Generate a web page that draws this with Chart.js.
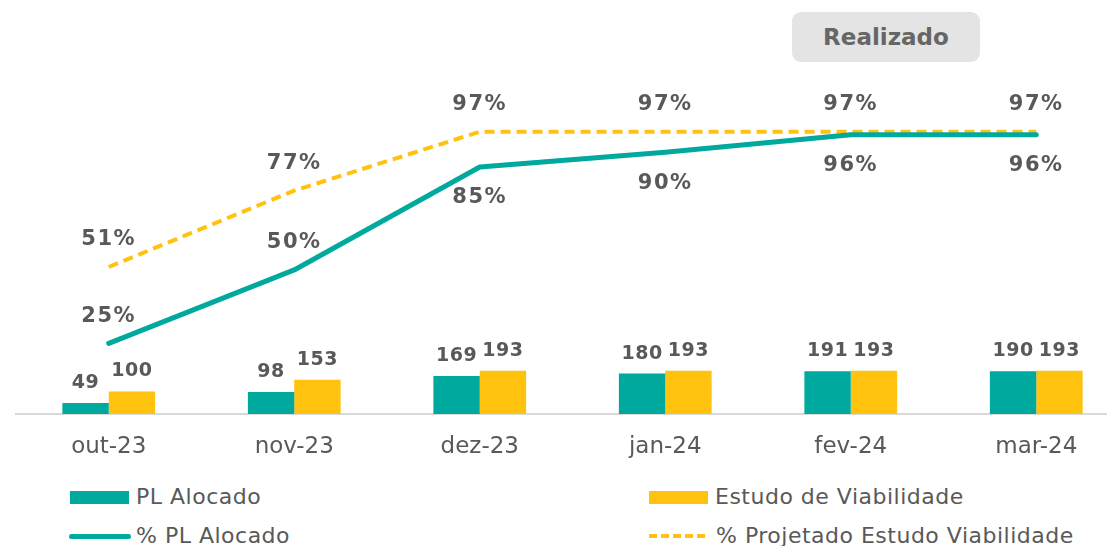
<!DOCTYPE html>
<html>
<head>
<meta charset="utf-8">
<script src="https://cdn.jsdelivr.net/npm/chart.js@4.4.0/dist/chart.umd.min.js"></script>
<style>
  html, body { margin: 0; padding: 0; background: #fff; overflow: hidden; }
  #wrap { position: relative; width: 1107px; height: 546px; overflow: hidden;
          font-family: 'DejaVu Sans', Verdana, sans-serif; color: #595959; }
  #myChart { position: absolute; left: 0; top: 0; }
  .badge { position: absolute; left: 792px; top: 12px; width: 188px; height: 50px;
           background: #e4e4e4; border-radius: 9px; font-weight: bold; font-size: 23px;
           line-height: 50px; text-align: center; color: #666; }
  .leg { position: absolute; font-size: 22px; line-height: 26px; height: 26px; letter-spacing: 0.5px;
         display: flex; align-items: center; white-space: nowrap; }
  .box { width: 59px; height: 13px; margin-right: 7px; }
  .solid { width: 62px; height: 5px; border-radius: 3px; margin-right: 5px; }
  .dash { width: 59px; height: 4px; margin-right: 8px;
          background: repeating-linear-gradient(to right, #FFC20E 0 8px, transparent 8px 12px); }
</style>
</head>
<body>
<div id="wrap">
  <canvas id="myChart" width="1130" height="470"></canvas>
  <div class="badge">Realizado</div>
  <div class="leg" style="left:70px; top:484px;"><span class="box" style="background:#00A99D"></span>PL Alocado</div>
  <div class="leg" style="left:649px; top:484px;"><span class="box" style="background:#FFC20E"></span>Estudo de Viabilidade</div>
  <div class="leg" style="left:69px; top:523px;"><span class="solid" style="background:#00A99D"></span>% PL Alocado</div>
  <div class="leg" style="left:649px; top:523px;"><span class="dash"></span>% Projetado Estudo Viabilidade</div>
</div>
<script>
// chart data
const months = ['out-23', 'nov-23', 'dez-23', 'jan-24', 'fev-24', 'mar-24'];
const plAlocado = [49, 98, 169, 180, 191, 190];
const estudoViabilidade = [100, 153, 193, 193, 193, 193];
const pctPlAlocado = [25, 50, 85, 90, 96, 96];
const pctProjetado = [51, 77, 97, 97, 97, 97];

const TEAL = '#00A99D';
const YELLOW = '#FFC20E';
const LABEL = '#595959';

Chart.defaults.font.family = "'DejaVu Sans', Verdana, sans-serif";

// draws the value labels above/below each mark
const valueLabels = {
    id: 'valueLabels',
    afterDatasetsDraw(chart) {
        const ctx = chart.ctx;
        ctx.save();
        ctx.fillStyle = LABEL;
        ctx.textAlign = 'center';
        ctx.textBaseline = 'middle';
        chart.data.datasets.forEach((ds, di) => {
            const meta = chart.getDatasetMeta(di);
            meta.data.forEach((el, i) => {
                const v = ds.data[i];
                let text, dy;
                if (ds.type === 'bar') {
                    ctx.font = 'bold 19px "DejaVu Sans", Verdana, sans-serif';
                    ctx.letterSpacing = '0.5px';
                    text = String(v);
                    dy = -20;
                } else {
                    ctx.font = 'bold 21px "DejaVu Sans", Verdana, sans-serif';
                    ctx.letterSpacing = '1.5px';
                    text = Math.round(v) + '%';
                    dy = (ds.label === '% PL Alocado' && i >= 2) ? 31 : -27;
                }
                ctx.fillText(text, el.x, el.y + dy);
            });
        });
        ctx.restore();
    }
};

const ctx = document.getElementById('myChart').getContext('2d');
const myChart = new Chart(ctx, {
    data: {
        labels: months,
        datasets: [
            {
                type: 'line', label: '% PL Alocado', data: pctPlAlocado, yAxisID: 'y1',
                borderColor: TEAL, borderWidth: 5, borderCapStyle: 'round', borderJoinStyle: 'round',
                pointRadius: 0, tension: 0, order: 1
            },
            {
                type: 'line', label: '% Projetado Estudo Viabilidade', data: pctProjetado, yAxisID: 'y1',
                borderColor: YELLOW, borderWidth: 4, borderDash: [10, 6],
                pointRadius: 0, tension: 0, order: 1
            },
            {
                type: 'bar', label: 'PL Alocado', data: plAlocado, yAxisID: 'y',
                backgroundColor: TEAL, order: 2,
                categoryPercentage: 0.5, barPercentage: 1
            },
            {
                type: 'bar', label: 'Estudo de Viabilidade', data: estudoViabilidade, yAxisID: 'y',
                backgroundColor: YELLOW, order: 2,
                categoryPercentage: 0.5, barPercentage: 1
            }
        ]
    },
    options: {
        responsive: false,
        animation: false,
        layout: { padding: { left: 16, right: 1, top: 120, bottom: 0 } },
        plugins: {
            legend: { display: false },
            tooltip: { enabled: false }
        },
        scales: {
            x: {
                grid: { display: false, drawTicks: false },
                border: { display: true, color: '#d9d9d9', width: 2 },
                ticks: { color: LABEL, font: { size: 23 }, padding: 19 },
                afterFit: (scale) => { scale.height = 56; }
            },
            y: { display: false, min: 0, max: 1310 },
            y1: { display: false, min: 1, max: 101 }
        }
    },
    plugins: [valueLabels]
});
</script>
</body>
</html>
